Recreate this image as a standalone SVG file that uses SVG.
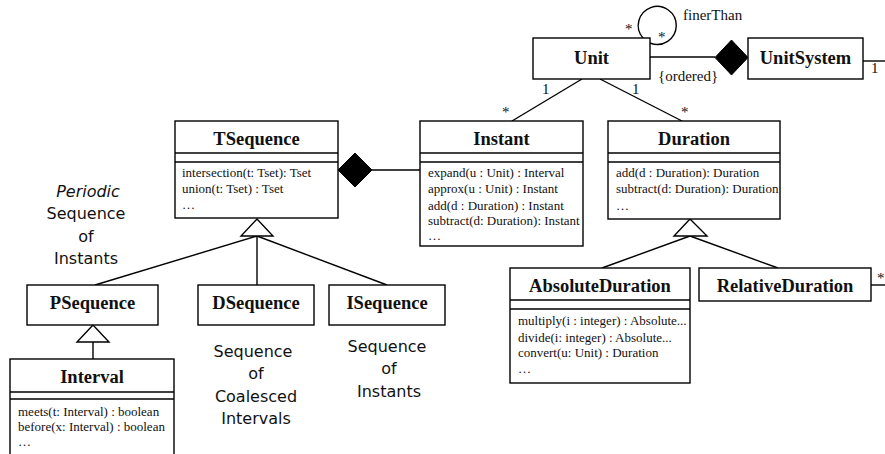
<svg xmlns="http://www.w3.org/2000/svg" width="885" height="454" viewBox="0 0 885 454">
<style>
.box{fill:#fff;stroke:#000;stroke-width:1.4}
.ln{fill:none;stroke:#000;stroke-width:1.4}
.nm{font-family:"Liberation Serif",serif;font-weight:bold;font-size:18.5px;text-anchor:middle;fill:#111}
.op{font-family:"Liberation Serif",serif;font-size:13px;fill:#111}
.lb{font-family:"Liberation Serif",serif;font-size:15px;fill:#111}
.an{font-family:"DejaVu Sans",sans-serif;font-size:16px;text-anchor:middle;fill:#111}
.dia{fill:#000;stroke:#000}
.tri{fill:#fff;stroke:#000;stroke-width:1.4}
</style>
<defs>
<clipPath id="cDur"><rect x="608" y="121" width="172" height="98"/></clipPath>
<clipPath id="cAbs"><rect x="510" y="268" width="180" height="115"/></clipPath>
</defs>
<rect width="885" height="454" fill="#fff"/>
<g id="connectors">
<path class="ln" d="M643,38 A19,19 0 1,1 650,43"/>
<line class="ln" x1="650" y1="57" x2="715" y2="57"/>
<polygon class="dia" points="715,57.5 731.5,40 748,57.5 731.5,75"/>
<line class="ln" x1="863" y1="61" x2="885" y2="61"/>
<line class="ln" x1="582" y1="79" x2="512" y2="121"/>
<line class="ln" x1="600" y1="79" x2="682" y2="121"/>
<line class="ln" x1="372" y1="170" x2="420" y2="170"/>
<polygon class="dia" points="338,170 355,153 372,170 355,187"/>
<line class="ln" x1="257" y1="236" x2="95" y2="285"/>
<line class="ln" x1="257" y1="236" x2="257" y2="285"/>
<line class="ln" x1="257" y1="236" x2="387" y2="285"/>
<polygon class="tri" points="257,219 241,236 273,236"/>
<line class="ln" x1="690" y1="236" x2="602" y2="268"/>
<line class="ln" x1="690" y1="236" x2="778" y2="268"/>
<polygon class="tri" points="690,219 674,236 707,236"/>
<line class="ln" x1="871" y1="285" x2="885" y2="285"/>
<line class="ln" x1="93" y1="342" x2="93" y2="359"/>
<polygon class="tri" points="93,325 77,342 109,342"/>
<text class="lb" x="625" y="34">*</text>
<text class="lb" x="658" y="42">*</text>
<text class="lb" x="683" y="20">finerThan</text>
<text class="lb" x="658" y="81">{ordered}</text>
<text class="lb" x="871" y="73">1</text>
<text class="lb" x="542" y="94">1</text>
<text class="lb" x="502" y="117">*</text>
<text class="lb" x="632" y="94">1</text>
<text class="lb" x="681" y="117">*</text>
<text class="lb" x="877" y="283">*</text>
</g>
<g id="Unit">
<rect class="box" x="533" y="38" width="117" height="41"/>
<text class="nm" x="591.5" y="64">Unit</text>
</g>
<g id="UnitSystem">
<rect class="box" x="748" y="38" width="115" height="41"/>
<text class="nm" x="805.5" y="64">UnitSystem</text>
</g>
<g id="TSequence">
<rect class="box" x="175" y="121" width="163" height="97"/>
<line class="ln" x1="175" y1="153" x2="338" y2="153"/>
<line class="ln" x1="175" y1="162" x2="338" y2="162"/>
<text class="nm" x="256.5" y="145">TSequence</text>
<text class="op" x="182" y="177">intersection(t: Tset): Tset</text>
<text class="op" x="182" y="193">union(t: Tset) : Tset</text>
<text class="op" x="182" y="209">…</text>
</g>
<g id="Instant">
<rect class="box" x="420" y="121" width="163" height="125"/>
<line class="ln" x1="420" y1="153" x2="583" y2="153"/>
<line class="ln" x1="420" y1="162" x2="583" y2="162"/>
<text class="nm" x="501.5" y="145">Instant</text>
<text class="op" x="428" y="177">expand(u : Unit) : Interval</text>
<text class="op" x="428" y="193">approx(u : Unit) : Instant</text>
<text class="op" x="428" y="210">add(d : Duration) : Instant</text>
<text class="op" x="428" y="225">subtract(d: Duration): Instant</text>
<text class="op" x="428" y="240">…</text>
</g>
<g id="Duration">
<rect class="box" x="608" y="121" width="172" height="98"/>
<line class="ln" x1="608" y1="153" x2="780" y2="153"/>
<line class="ln" x1="608" y1="162" x2="780" y2="162"/>
<text class="nm" x="694" y="145">Duration</text>
<g clip-path="url(#cDur)">
<text class="op" x="616" y="177">add(d : Duration): Duration</text>
<text class="op" x="616" y="193">subtract(d: Duration): Duration</text>
<text class="op" x="616" y="210">…</text>
</g>
</g>
<g id="PSequence">
<rect class="box" x="27" y="285" width="131" height="40"/>
<text class="nm" x="92.5" y="309">PSequence</text>
</g>
<g id="DSequence">
<rect class="box" x="198" y="285" width="116" height="40"/>
<text class="nm" x="256" y="309">DSequence</text>
</g>
<g id="ISequence">
<rect class="box" x="329" y="285" width="116" height="40"/>
<text class="nm" x="387" y="309">ISequence</text>
</g>
<g id="AbsoluteDuration">
<rect class="box" x="510" y="268" width="180" height="115"/>
<line class="ln" x1="510" y1="300" x2="690" y2="300"/>
<line class="ln" x1="510" y1="309" x2="690" y2="309"/>
<text class="nm" x="600" y="292">AbsoluteDuration</text>
<g clip-path="url(#cAbs)">
<text class="op" x="518" y="325">multiply(i : integer) : Absolute...</text>
<text class="op" x="518" y="342">divide(i: integer) : Absolute...</text>
<text class="op" x="518" y="357">convert(u: Unit) : Duration</text>
<text class="op" x="518" y="373">…</text>
</g>
</g>
<g id="RelativeDuration">
<rect class="box" x="699" y="268" width="172" height="33"/>
<text class="nm" x="785" y="292">RelativeDuration</text>
</g>
<g id="Interval">
<rect class="box" x="10" y="359" width="164" height="110"/>
<line class="ln" x1="10" y1="392" x2="174" y2="392"/>
<line class="ln" x1="10" y1="399" x2="174" y2="399"/>
<text class="nm" x="92" y="383">Interval</text>
<text class="op" x="18" y="416">meets(t: Interval) : boolean</text>
<text class="op" x="18" y="431">before(x: Interval) : boolean</text>
<text class="op" x="18" y="446">…</text>
</g>
<g id="notes">
<text class="an" x="88" y="197" font-style="italic">Periodic</text>
<text class="an" x="86" y="219">Sequence</text>
<text class="an" x="86" y="242">of</text>
<text class="an" x="86" y="264">Instants</text>
<text class="an" x="253" y="357">Sequence</text>
<text class="an" x="256" y="379">of</text>
<text class="an" x="256" y="402">Coalesced</text>
<text class="an" x="256" y="424">Intervals</text>
<text class="an" x="387" y="352">Sequence</text>
<text class="an" x="389" y="374">of</text>
<text class="an" x="389" y="397">Instants</text>
</g>
</svg>
